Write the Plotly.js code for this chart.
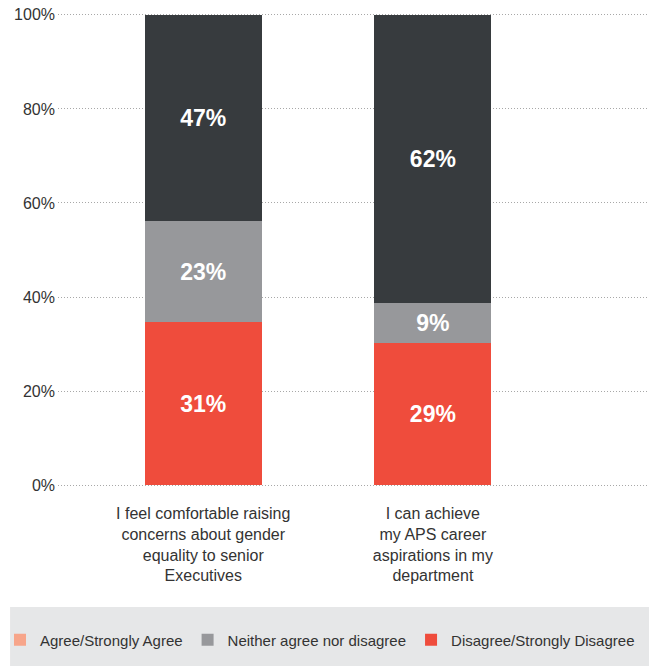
<!DOCTYPE html>
<html>
<head>
<meta charset="utf-8">
<script src="https://cdn.plot.ly/plotly-3.0.1.min.js"></script>
<style>html,body{margin:0;padding:0;background:#fff;}#chart{width:649px;height:666px;}</style>
</head>
<body>
<div id="chart"></div>
<script>
// Categories (x axis tick labels)
const categories = [
  "I feel comfortable raising<br>concerns about gender<br>equality to senior<br>Executives",
  "I can achieve<br>my APS career<br>aspirations in my<br>department"
];
// Series names
const seriesNames = ["Agree/Strongly Agree", "Neither agree nor disagree", "Disagree/Strongly Disagree"];
// Bar segment heights as drawn (percent of bar)
const disagreeValues = [34.6, 30.2];
const neitherValues = [21.6, 8.6];
const agreeValues = [43.8, 61.2];
// Labels printed on the segments
const disagreeLabels = ["31%", "29%"];
const neitherLabels = ["23%", "9%"];
const agreeLabels = ["47%", "62%"];
// Y tick labels
const yTickVals = [0, 20, 40, 60, 80, 100];
const yTickText = ["0%", "20%", "40%", "60%", "80%", "100%"];

const FONT = "Liberation Sans, Arial, Helvetica, sans-serif";
const barText = {family: FONT, size: 23, color: "#ffffff", weight: "bold"};

function segment(name, y, text, color, showlegend) {
  return {
    type: "bar", name: name, x: categories, y: y, text: text,
    texttemplate: "<b>%{text}</b>", textposition: "inside", insidetextanchor: "middle",
    constraintext: "none", textfont: barText, insidetextfont: barText,
    marker: {color: color, line: {width: 0}}, width: 0.509,
    showlegend: showlegend, hoverinfo: "skip"
  };
}

const traces = [
  // legend-only entry, as in the reference legend
  {type: "bar", name: seriesNames[0], x: [null], y: [null], marker: {color: "#f7a58a"}, showlegend: true, hoverinfo: "skip", legendrank: 1},
  segment(seriesNames[2], disagreeValues, disagreeLabels, "#ef4c3c", true),
  segment(seriesNames[1], neitherValues, neitherLabels, "#97989b", true),
  segment(seriesNames[0], agreeValues, agreeLabels, "#373b3e", false)
];
traces[2].legendrank = 2;
traces[1].legendrank = 3;

const layout = {
  width: 649, height: 666,
  margin: {l: 57, r: 1, t: 13, b: 179},
  paper_bgcolor: "#ffffff", plot_bgcolor: "#ffffff",
  barmode: "stack", bargap: 0,
  font: {family: FONT, size: 15, color: "#333333"},
  xaxis: {
    type: "category", range: [-0.6326, 1.937], showgrid: false, zeroline: false,
    showline: false, ticks: "", tickfont: {family: FONT, size: 16, color: "#333333"},
    ticklabelstandoff: 15, fixedrange: true
  },
  yaxis: {
    range: [-0.4, 100.4], tickvals: yTickVals, ticktext: yTickText,
    showgrid: true, gridcolor: "#a8a8a8", gridwidth: 1, griddash: "1px,2px",
    zeroline: false, showline: false, ticks: "",
    ticklabelstandoff: 2,
    tickfont: {family: FONT, size: 16, color: "#333333"}, fixedrange: true
  },
  showlegend: true,
  legend: {
    orientation: "h", xref: "paper", yref: "paper",
    x: (0 - 57) / 591, xanchor: "left", y: (487 - 640) / 474, yanchor: "middle",
    bgcolor: "rgba(0,0,0,0)", traceorder: "normal",
    font: {family: FONT, size: 15, color: "#333333"}
  },
  shapes: [{
    type: "rect", xref: "paper", yref: "paper",
    x0: (9 - 57) / 591, x1: (649 - 57) / 591,
    y0: (487 - 666) / 474, y1: (487 - 607) / 474,
    fillcolor: "#e6e7e8", line: {width: 0}, layer: "below"
  }]
};

Plotly.newPlot("chart", traces, layout, {displayModeBar: false, staticPlot: true});
</script>
</body>
</html>
